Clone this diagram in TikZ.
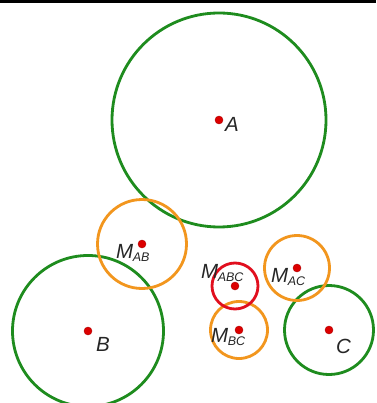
\documentclass[tikz,border=0pt]{standalone}
\usepackage{fontspec}
\setmainfont{Liberation Sans}
\definecolor{cgreen}{RGB}{30,140,30}
\definecolor{corange}{RGB}{242,150,30}
\definecolor{cred}{RGB}{225,15,30}
\definecolor{cdot}{RGB}{220,0,0}
\newcommand{\lblM}[1]{\itshape M\hspace{-0.5pt}\raisebox{-3.5pt}{\fontsize{12.5}{12.5}\selectfont #1}}
\begin{document}
\begin{tikzpicture}[x=1pt,y=-1pt,
  ring/.style={line width=2.8pt},
  gring/.style={ring,draw=cgreen},
  oring/.style={ring,draw=corange},
  rring/.style={ring,draw=cred},
  dot/.style={circle,fill=cdot,draw=cdot!80!black,line width=0.4pt,minimum size=8pt,inner sep=0pt},
  lbl/.style={anchor=base west,inner sep=0pt,font=\fontsize{20.5}{20.5}\selectfont\itshape,text=black!85}]
\useasboundingbox (0,0) rectangle (376,403);
\fill[white] (0,0) rectangle (376,403);
\fill[black] (0,0) rectangle (376,2.7);
% centers
\coordinate (A) at (219,120);
\coordinate (B) at (88,331);
\coordinate (C) at (329,330);
\coordinate (MAB) at (142,244);
\coordinate (MAC) at (297,268);
\coordinate (MABC) at (235,286);
\coordinate (MBC) at (239,330);
% circles
\draw[gring] (A) circle[radius=107];
\draw[gring] (B) circle[radius=75.5];
\draw[gring] (C) circle[radius=44.5];
\draw[oring] (MAB) circle[radius=44.5];
\draw[oring] (MAC) circle[radius=32.5];
\draw[oring] (MBC) circle[radius=28.5];
\draw[rring] (MABC) circle[radius=23];
% dots
\node[dot] (dA) at (A) {};
\node[dot] (dB) at (B) {};
\node[dot] (dC) at (C) {};
\node[dot] (dMAB) at (MAB) {};
\node[dot] (dMAC) at (MAC) {};
\node[dot] (dMABC) at (MABC) {};
\node[dot] (dMBC) at (MBC) {};
% labels
\node[lbl] (tA) at (225,132) {A};
\node[lbl] (tB) at (96,351) {B};
\node[lbl] (tC) at (336,353) {C};
\node[lbl] (tMAB) at (116,258) {\lblM{AB}};
\node[lbl] (tMABC) at (201,278) {\lblM{ABC}};
\node[lbl] (tMBC) at (211,342) {\lblM{BC}};
\node[lbl] (tMAC) at (271,282) {\lblM{AC}};
\end{tikzpicture}
\end{document}
